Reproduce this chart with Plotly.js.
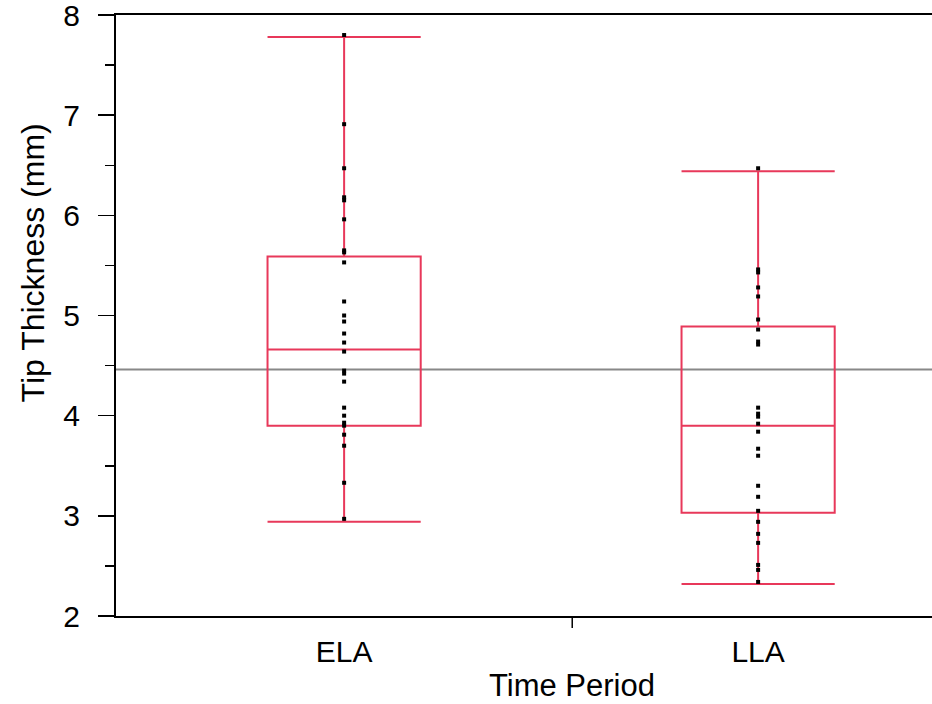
<!DOCTYPE html>
<html>
<head>
<meta charset="utf-8">
<script src="https://cdn.plot.ly/plotly-3.0.1.min.js"></script>
<style>html,body{margin:0;padding:0;background:#fff;}#chart{width:932px;height:704px;}</style>
</head>
<body>
<div id="chart"></div>
<script>
// Categories
const categories = ['ELA', 'LLA'];
// Box statistics
const q1Vals = [3.90, 3.03];
const medianVals = [4.66, 3.90];
const q3Vals = [5.59, 4.89];
const lowerFence = [2.94, 2.32];
const upperFence = [7.78, 6.44];
// Individual observations
const elaPoints = [7.80, 6.91, 6.47, 6.18, 6.15, 5.96, 5.65, 5.63, 5.53, 5.14, 5.00, 4.94, 4.82, 4.73, 4.64, 4.45, 4.42, 4.34, 4.08, 4.00, 3.93, 3.90, 3.81, 3.70, 3.33, 2.97];
const llaPoints = [6.47, 5.46, 5.43, 5.28, 5.19, 4.96, 4.86, 4.74, 4.71, 4.08, 4.02, 3.99, 3.92, 3.84, 3.67, 3.60, 3.30, 3.19, 3.05, 2.94, 2.82, 2.73, 2.51, 2.46, 2.34];
// Grand mean line
const grandMean = 4.46;
// Y ticks
const yTickVals = [2, 3, 4, 5, 6, 7, 8];
const xTitle = 'Time Period';
const yTitle = 'Tip Thickness (mm)';

const boxColor = '#e8385a';
const fontFam = 'Liberation Sans, Arial, sans-serif';

const traces = [
  {
    type: 'box',
    x: categories,
    q1: q1Vals,
    median: medianVals,
    q3: q3Vals,
    lowerfence: lowerFence,
    upperfence: upperFence,
    width: 0.37,
    whiskerwidth: 1,
    boxpoints: false,
    line: {color: boxColor, width: 2},
    fillcolor: 'rgba(0,0,0,0)',
    hoverinfo: 'skip',
    showlegend: false
  },
  {
    type: 'scatter', mode: 'markers',
    x: elaPoints.map(() => categories[0]), y: elaPoints,
    marker: {symbol: 'square', size: 4, color: '#000'},
    showlegend: false
  },
  {
    type: 'scatter', mode: 'markers',
    x: llaPoints.map(() => categories[1]), y: llaPoints,
    marker: {symbol: 'square', size: 4, color: '#000'},
    showlegend: false
  }
];

const layout = {
  width: 932, height: 704,
  margin: {l: 116, r: 0, t: 15, b: 88},
  paper_bgcolor: '#fff', plot_bgcolor: '#fff',
  font: {family: fontFam, color: '#000', size: 30},
  showlegend: false,
  xaxis: {
    type: 'category',
    range: [-0.551, 1.42],
    showgrid: false, zeroline: false,
    showline: true, linecolor: '#000', linewidth: 2, mirror: true,
    ticks: '',
    ticklabelstandoff: 8,
    tickfont: {size: 30, family: fontFam}
  },
  yaxis: {
    range: [2, 8],
    tickvals: yTickVals,
    showgrid: false, zeroline: false,
    showline: true, linecolor: '#000', linewidth: 2,
    ticks: 'outside', ticklen: 16, tickwidth: 1.5, tickcolor: '#000',
    ticklabelstandoff: 12,
    ticklabeloverflow: 'allow',
    minor: {dtick: 0.5, ticks: 'outside', ticklen: 9, tickwidth: 1.5, tickcolor: '#000', showgrid: false},
    tickfont: {size: 30, family: fontFam}
  },
  annotations: [
    {text: xTitle, xref: 'x', yref: 'paper', x: 0.551, y: 0, xanchor: 'center', yanchor: 'top',
     yshift: -50, showarrow: false, font: {size: 31, family: fontFam, color: '#000'}},
    {text: yTitle, xref: 'paper', yref: 'y', x: 0, y: 5.52, xanchor: 'center', yanchor: 'middle',
     xshift: -83, textangle: -90, showarrow: false, font: {size: 32, family: fontFam, color: '#000'}}
  ],
  shapes: [
    {type: 'line', xref: 'paper', yref: 'y', x0: 0, x1: 1, y0: grandMean, y1: grandMean,
     line: {color: '#888', width: 2}, layer: 'below'},
    {type: 'line', xref: 'x', yref: 'paper', x0: 0.551, x1: 0.551, y0: 0, y1: -0.02,
     line: {color: '#000', width: 1.5}}
  ]
};

Plotly.newPlot('chart', traces, layout, {displayModeBar: false, staticPlot: true});
</script>
</body>
</html>
